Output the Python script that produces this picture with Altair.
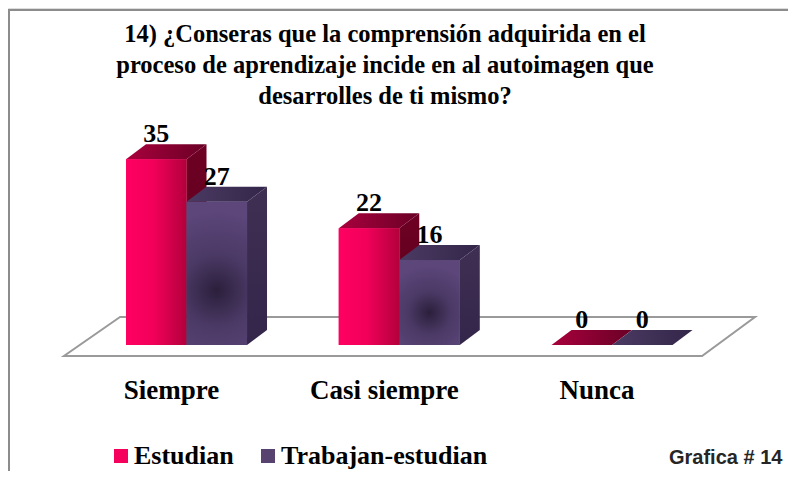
import json
import altair as alt
import pandas as pd

# ---------------- data ----------------
categories = ["Siempre", "Casi siempre", "Nunca"]
series_names = ["Estudian", "Trabajan-estudian"]
estudian = [35, 22, 0]
trabajan = [27, 16, 0]
title_lines = [
    "14) ¿Conseras que la comprensión adquirida en el",
    "proceso de aprendizaje incide en al autoimagen que",
    "desarrolles de ti mismo?",
]
footnote = "Grafica # 14"

# ---------------- layout / style ----------------
W, H = 780, 463
X_DOMAIN = [-0.839, 2.827]
Y_DOMAIN = [-23.73, 63.47]
BAR_W = 0.2844
DEPTH_X = 0.094
DEPTH_Y = 2.825
FLOOR = [(-2.07, -0.576, 2.423), (5.27, -0.3125, 2.672)]

SERIF = "Liberation Serif"
PINK = "#f5005c"
PURPLE = "#574270"

xs = alt.Scale(domain=X_DOMAIN, nice=False, zero=False)
ys = alt.Scale(domain=Y_DOMAIN, nice=False, zero=False)

x_axis = alt.Axis(
    values=list(range(len(categories))),
    labelExpr=json.dumps(categories) + "[round(datum.value)]",
    domain=False, ticks=False, tickSize=0, grid=False,
    labelFont=SERIF, labelFontSize=27, labelFontWeight="bold", labelColor="black",
    labelBaseline="alphabetic", labelPadding=0, offset=-73, labelOffset=-15.5,
    labelAngle=0, labelOverlap=False, labelFlush=False, labelBound=False,
)

# ---------------- tables ----------------
front_rows, side_rows, top_rows = [], [], []
for ci, cat in enumerate(categories):
    for si, (s, vals) in enumerate(zip(series_names, [estudian, trabajan])):
        v = vals[ci]
        x0 = ci - BAR_W + si * BAR_W
        x1 = x0 + BAR_W
        key = f"{cat}|{s}"
        front_rows.append(dict(cat=cat, serie=s, value=v, x0=x0, x1=x1,
                               xc=(x0 + x1) / 2, base=0))
        side_rows += [dict(key=key, serie=s, x=x1, y=v, y2=0),
                      dict(key=key, serie=s, x=x1 + DEPTH_X, y=v + DEPTH_Y, y2=DEPTH_Y)]
        top_rows += [dict(key=key, serie=s, y=v, x=x0, x2=x1),
                     dict(key=key, serie=s, y=v + DEPTH_Y, x=x0 + DEPTH_X, x2=x1 + DEPTH_X)]

front = pd.DataFrame(front_rows)
side = pd.DataFrame(side_rows)
top = pd.DataFrame(top_rows)
floor = pd.DataFrame([dict(y=a, x=b, x2=c, key="floor") for a, b, c in FLOOR])


def lin(c0, c1, horizontal=True):
    return alt.Gradient(
        gradient="linear",
        stops=[alt.GradientStop(color=c0, offset=0), alt.GradientStop(color=c1, offset=1)],
        x1=0, y1=0, x2=1 if horizontal else 0, y2=0 if horizontal else 1,
    )


styles = {
    "Estudian": dict(
        front=alt.Gradient(gradient="linear", x1=0, y1=0, x2=1, y2=0, stops=[
            alt.GradientStop(color="#ff0062", offset=0),
            alt.GradientStop(color="#f2005a", offset=0.45),
            alt.GradientStop(color="#b3003c", offset=1)]),
        side=lin("#6e0024", "#55001a", horizontal=False),
        top=lin("#a8003c", "#6a0026"),
    ),
    "Trabajan-estudian": dict(
        front=alt.Gradient(gradient="radial", x1=0.5, y1=0.62, x2=0.5, y2=0.62, r1=0, r2=0.55, stops=[
            alt.GradientStop(color="#2a1f3b", offset=0),
            alt.GradientStop(color="#4b3965", offset=0.45),
            alt.GradientStop(color="#5c467a", offset=1)]),
        side=lin("#3f2f53", "#33264a", horizontal=False),
        top=lin("#4b3a62", "#33264a"),
    ),
}

X = lambda f: alt.X(f, scale=xs, axis=x_axis, title=None)
Y = lambda f: alt.Y(f, scale=ys, axis=None, title=None, stack=None)

# floor
floor_layer = alt.Chart(floor).mark_area(
    orient="horizontal", fill="white", stroke="#9a9a9a", strokeWidth=2
).encode(y=Y("y:Q"), x=X("x:Q"), x2="x2:Q", detail="key:N")

# solid fronts carrying the legend
legend_layer = alt.Chart(front).mark_rect().encode(
    x=X("x0:Q"), x2="x1:Q", y=Y("base:Q"), y2="value:Q",
    color=alt.Color("serie:N", title=None,
                    scale=alt.Scale(domain=series_names, range=[PINK, PURPLE]),
                    legend=alt.Legend(
                        orient="none", legendX=100, legendY=435, direction="horizontal",
                        symbolType="square", symbolSize=196, symbolStrokeWidth=0,
                        labelFont=SERIF, labelFontSize=26, labelFontWeight="bold",
                        labelColor="black", labelOffset=0, columnPadding=21, padding=0,
                        labelLimit=400,
                    )),
)

layers = [floor_layer, legend_layer]
for s in series_names:
    st = styles[s]
    layers.append(alt.Chart(side[side.serie == s]).mark_area(
        orient="vertical", color=st["side"]
    ).encode(x=X("x:Q"), y=Y("y:Q"), y2="y2:Q", detail="key:N"))
    layers.append(alt.Chart(top[top.serie == s]).mark_area(
        orient="horizontal", color=st["top"]
    ).encode(y=Y("y:Q"), x=X("x:Q"), x2="x2:Q", detail="key:N"))
    layers.append(alt.Chart(front[front.serie == s]).mark_rect(
        color=st["front"]
    ).encode(x=X("x0:Q"), x2="x1:Q", y=Y("base:Q"), y2="value:Q"))

labels = alt.Chart(front).mark_text(
    font=SERIF, fontSize=26, fontWeight="bold", color="black",
    baseline="alphabetic", align="center", dy=-17,
).encode(x=X("xc:Q"), y=Y("value:Q"), text="value:Q")

title = alt.Chart(pd.DataFrame({"a": [0]})).mark_text(
    font=SERIF, fontSize=24.5, fontWeight="bold", color="black",
    baseline="alphabetic", align="center", lineHeight=31,
).encode(x=alt.value(377), y=alt.value(34), text=alt.value(title_lines))

foot = alt.Chart(pd.DataFrame({"t": [footnote]})).mark_text(
    align="left", baseline="alphabetic", font="Liberation Sans", fontSize=20,
    fontWeight="bold", color="#262626",
).encode(x=alt.value(661), y=alt.value(456), text="t:N")

frame_left = alt.Chart(pd.DataFrame({"a": [0]})).mark_rule(
    color="#8c8c8c", strokeWidth=2
).encode(x=alt.value(1), y=alt.value(2), y2=alt.value(H))
frame_top = alt.Chart(pd.DataFrame({"a": [0]})).mark_rule(
    color="#8c8c8c", strokeWidth=2
).encode(x=alt.value(0), x2=alt.value(W), y=alt.value(2))

chart = alt.layer(
    frame_left, frame_top, title, *layers, labels, foot
).properties(
    width=W, height=H,
    autosize=alt.AutoSizeParams(type="none"),
    padding={"left": 0, "top": 0, "right": 0, "bottom": 0},
).configure_view(strokeWidth=0).configure(background="white")

chart.save("out.html", embed_options={"renderer": "svg", "actions": False})
